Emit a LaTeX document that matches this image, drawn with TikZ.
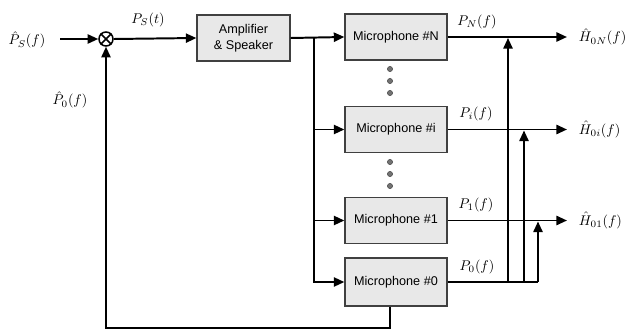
\documentclass[tikz,border=0pt]{standalone}
\usepackage{fontspec}
\setsansfont{Liberation Sans}
\usepackage{amsmath}
\usetikzlibrary{arrows.meta,positioning}

\tikzset{
	block/.style={draw=black!75, fill=black!9, line width=0.9pt, minimum width=2.55cm, minimum height=1.15cm, inner sep=1pt, align=center, font=\sffamily\fontsize{9}{11}\selectfont},
	sig/.style={line width=1.4pt, >={Triangle[length=7.5pt,width=6.5pt]}},
	sumnode/.style={draw, circle, line width=1.1pt, minimum size=0.35cm, inner sep=0pt},
	dotnode/.style={circle, fill=black!55, draw=black!70, inner sep=0pt, minimum size=0.13cm}
}

\begin{document}
\begin{tikzpicture}[x=0.025cm, y=-0.025cm]
		\useasboundingbox (0,0) rectangle (633,329);

		% summing point and blocks
		\node[sumnode] (sum) at (106,39) {};
		\draw [line width=1.1pt] (sum.45) -- (sum.225) (sum.135) -- (sum.-45);
		\node[block, minimum width=2.325cm] (amp) at (243.5,38) {Amplifier\\\& Speaker};
		\node[block] (micN) at (396,37) {Microphone \#N};
		\node[block] (mici) at (396,129.5) {Microphone \#i};
		\node[block] (mic1) at (396,220.5) {Microphone \#1};
		\node[block, minimum height=1.2cm] (mic0) at (396,282) {Microphone \#0};

		% dots between microphones
		\foreach \y [count=\k] in {69,81,93} \node[dotnode] (dotu\k) at (390,\y) {};
		\foreach \y [count=\k] in {162,174,186} \node[dotnode] (dotl\k) at (390,\y) {};

		% labels
		\node (insig) at (27,40) {$\hat{P}_S(f)$};
		\node (fbsig) at (70,100) {$\hat{P}_0(f)$};
		\node (spk) at (148,20) {$P_S(t)$};
		\node (pN) at (477,22) {$P_N(f)$};
		\node (pi) at (476,114) {$P_i(f)$};
		\node (p1) at (476,205) {$P_1(f)$};
		\node (p0) at (477,267) {$P_0(f)$};

		\coordinate (inl) at (60,39);
		\coordinate (bus) at (314,38);
		\coordinate (outN) at (567,37);
		\coordinate (outi) at (567,129.5);
		\coordinate (out1) at (567,220.5);
		\coordinate (tapN) at (508,282);
		\coordinate (tapi) at (524,282);
		\coordinate (tap1) at (538,282);

		\node[anchor=west] (hN) at (574,37) {$\hat{H}_{0N}(f)$};
		\node[anchor=west] (hi) at (574,129.5) {$\hat{H}_{0i}(f)$};
		\node[anchor=west] (h1) at (574,220.5) {$\hat{H}_{01}(f)$};

		% signal paths
		\draw [sig,->] (inl) -- (sum.west);
		\draw [sig,->] (sum.east) -- (amp.west);
		\draw [sig,->] (amp.east) -- (micN.west);
		\draw [sig,->] (bus) |- (mici.west);
		\draw [sig,->] (bus) |- (mic1.west);
		\draw [sig,->] (bus) |- (mic0.west);

		\draw [sig,->] (micN.east) -- (outN);
		\draw [sig,->] (mici.east) -- (outi);
		\draw [sig,->] (mic1.east) -- (out1);
		\draw [sig] (mic0.east) -- (tap1);
		\draw [sig,->] (tapN) -- ([yshift=-0.7pt]tapN |- micN.east);
		\draw [sig,->] (tapi) -- ([yshift=-0.7pt]tapi |- mici.east);
		\draw [sig,->] (tap1) -- ([yshift=-0.7pt]tap1 |- mic1.east);

		% feedback
		\draw [sig,->] ([xshift=-0.15cm]mic0.south) -- ++(0,21) -| (sum.south);
	\end{tikzpicture}
\end{document}
